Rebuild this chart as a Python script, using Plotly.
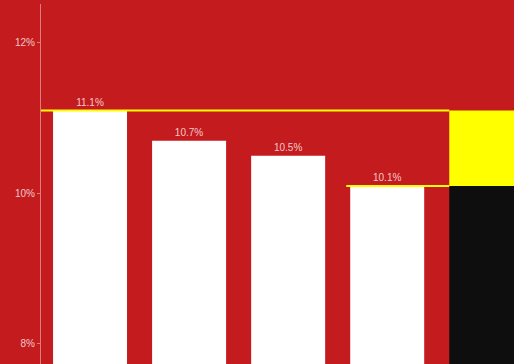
import plotly.graph_objects as go

categories = ["A", "B", "C", "D"]
values = [11.1, 10.7, 10.5, 10.1]
labels = ["11.1%", "10.7%", "10.5%", "10.1%"]
tick_vals = [8, 10, 12]
tick_text = ["8%", "10%", "12%"]

RED = "#C41B1F"
TXT = "rgba(255,240,240,0.82)"
W = 0.747

xs = list(range(len(categories)))
last_x = len(categories)
hi, lo = max(values), min(values)

fig = go.Figure()
fig.add_trace(go.Bar(x=xs, y=values, width=W, marker_color="white", marker_line_width=0,
                     text=labels, textposition="outside", cliponaxis=False,
                     textfont=dict(color=TXT, size=10, family="Liberation Sans")))
# difference column: yellow from lo to hi, black below lo
fig.add_trace(go.Bar(x=[last_x], y=[lo - 7], base=[7], width=W, marker_color="#0E0E0E", marker_line_width=0))
fig.add_trace(go.Bar(x=[last_x], y=[hi - lo], base=[lo], width=W, marker_color="#FFFF00", marker_line_width=0))
# connector lines
fig.add_trace(go.Scatter(x=[-0.5, last_x - W / 2], y=[hi, hi], mode="lines",
                         line=dict(color="#FFFF00", width=2), hoverinfo="skip"))
fig.add_trace(go.Scatter(x=[xs[-1] - W / 2 - 0.04, last_x - W / 2], y=[lo, lo], mode="lines",
                         line=dict(color="#FFFF00", width=2), hoverinfo="skip"))

fig.update_layout(
    width=514, height=364, showlegend=False, barmode="overlay",
    paper_bgcolor=RED, plot_bgcolor=RED,
    margin=dict(l=41, r=0, t=4, b=0),
    font=dict(family="Liberation Sans", size=10, color=TXT),
    xaxis=dict(range=[-0.495, 4.28], showticklabels=False, showgrid=False, zeroline=False,
               showline=False, ticks=""),
    yaxis=dict(range=[7.7335, 12.5165], tickvals=tick_vals, ticktext=tick_text, showgrid=False,
               zeroline=False, showline=True, linecolor="rgba(255,200,200,0.55)", linewidth=1,
               ticks="outside", ticklen=3, tickcolor="rgba(255,200,200,0.55)",
               tickfont=dict(color=TXT, size=10)),
)
fig.write_html("out.html", config={"displayModeBar": False},
               post_script="document.body.style.margin='0';document.body.style.overflow='hidden';document.body.style.background='" + RED + "';")
